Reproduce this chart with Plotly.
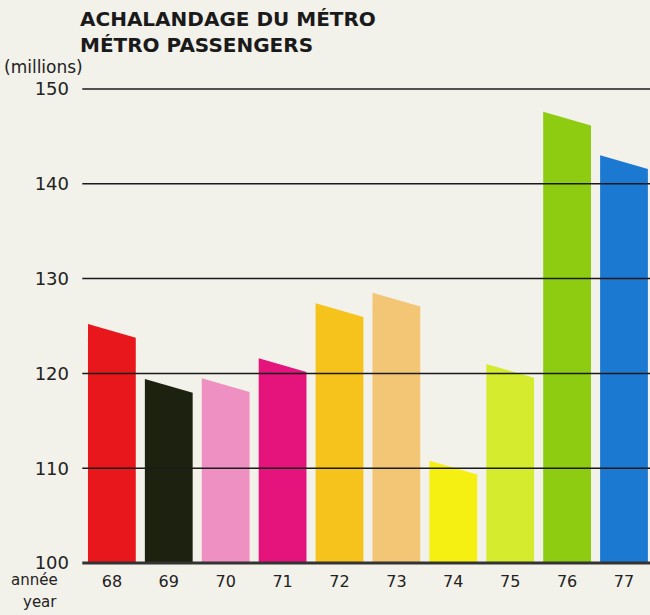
import plotly.graph_objects as go

years = ["68", "69", "70", "71", "72", "73", "74", "75", "76", "77"]
passengers = [125.2, 119.4, 119.5, 121.6, 127.4, 128.5, 110.8, 121.0, 147.6, 143.0]
bar_colors = ["#e8171b", "#1d2110", "#ef90c2", "#e5137c", "#f5c31c",
              "#f2c675", "#f6ef12", "#d5eb2e", "#8ecc12", "#1b79d2"]
y_ticks = [100, 110, 120, 130, 140, 150]

SLANT = 1.45
HALF = 0.42
FONT = "DejaVu Sans, Verdana, sans-serif"
BG = "#f2f1ea"

fig = go.Figure()
for i, (yr, v, c) in enumerate(zip(years, passengers, bar_colors)):
    x0, x1 = i - HALF, i + HALF
    fig.add_trace(go.Scatter(
        x=[x0, x0, x1, x1, x0], y=[100, v, v - SLANT, 100, 100],
        mode="lines", fill="toself", fillcolor=c,
        line=dict(width=0, color=c), hoverinfo="skip", showlegend=False))

shapes = []
for t in y_ticks[1:]:
    shapes.append(dict(type="line", xref="paper", yref="y", x0=0.004, x1=1,
                       y0=t, y1=t, layer="above",
                       line=dict(color="#1a1a1a", width=1.5)))
shapes.append(dict(type="line", xref="paper", yref="y", x0=0.004, x1=1,
                   y0=100, y1=100, layer="above",
                   line=dict(color="#333333", width=3)))

fig.update_layout(
    width=650, height=615,
    margin=dict(l=80, r=0, t=87, b=50),
    paper_bgcolor=BG, plot_bgcolor=BG,
    shapes=shapes,
    xaxis=dict(range=[-0.56, 9.457], tickmode="array",
               tickvals=list(range(len(years))), ticktext=years,
               showgrid=False, zeroline=False, showline=False,
               ticks="", tickfont=dict(family=FONT, size=16, color="#222"),
               ticklabelstandoff=5),
    yaxis=dict(range=[99.8, 150.2], tickvals=y_ticks, showgrid=False,
               zeroline=False, showline=False, ticks="",
               tickfont=dict(family=FONT, size=18, color="#222"),
               ticklabelstandoff=10),
    annotations=[
        dict(text="<b>ACHALANDAGE DU MÉTRO<br>MÉTRO PASSENGERS</b>",
             xref="paper", yref="paper", x=0.0, y=1.0,
             xanchor="left", yanchor="top", showarrow=False, align="left",
             xshift=-2, yshift=82,
             font=dict(family=FONT, size=20, color="#1a1a1a")),
        dict(text="(millions)", xref="paper", yref="paper", x=0, y=1,
             xanchor="left", yanchor="middle", showarrow=False,
             xshift=-78, yshift=20,
             font=dict(family=FONT, size=17, color="#222")),
        dict(text="année", xref="paper", yref="paper", x=0, y=0,
             xanchor="right", yanchor="middle", showarrow=False,
             xshift=-20, yshift=-15,
             font=dict(family=FONT, size=15, color="#222")),
        dict(text="year", xref="paper", yref="paper", x=0, y=0,
             xanchor="right", yanchor="middle", showarrow=False,
             xshift=-21, yshift=-37,
             font=dict(family=FONT, size=15, color="#222")),
    ],
)

fig.write_html("out.html")
